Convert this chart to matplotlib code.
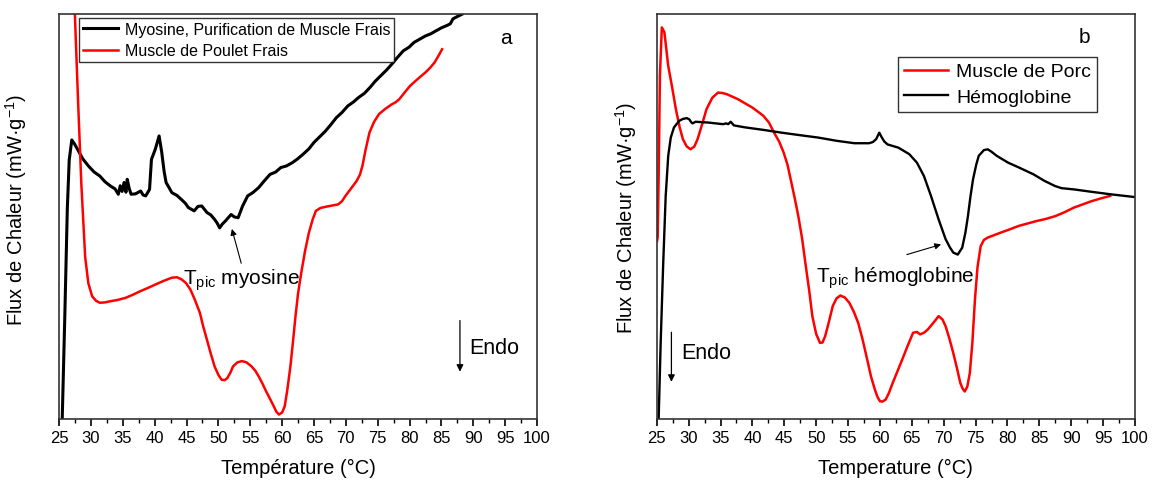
import numpy as np
import matplotlib.pyplot as plt
from matplotlib.ticker import MultipleLocator

plt.rcParams['font.family'] = ['Liberation Sans', 'DejaVu Sans']
plt.rcParams['mathtext.fontset'] = 'custom'
plt.rcParams['mathtext.rm'] = 'Liberation Sans'
plt.rcParams['mathtext.it'] = 'Liberation Sans'

# --- panel a : myosine (black) ---
myo_t = [25.5, 25.9, 26.3, 26.6, 27.0, 27.4, 27.9, 28.7, 29.6, 30.5, 31.4, 32.2, 33.1, 33.8, 34.3,
         34.6, 34.9, 35.2, 35.5, 35.7, 36.0, 36.3, 37.0, 37.8, 38.2, 38.6, 39.2, 39.5, 40.1, 40.7,
         41.1, 41.5, 41.8, 42.7, 43.5, 44.2, 44.8, 45.3, 46.2, 46.8, 47.4, 48.2, 48.8, 49.4, 49.8,
         50.2, 50.6, 51.1, 51.6, 52.0, 52.5, 53.1, 53.8, 54.6, 55.4, 56.3, 57.2, 58.1, 59.0, 59.8,
         60.7, 61.6, 62.4, 63.3, 64.2, 65.0, 65.9, 66.8, 67.6, 68.5, 69.4, 70.3, 71.2, 72.0, 72.9,
         73.8, 74.6, 75.5, 76.4, 77.2, 78.1, 79.0, 79.9, 80.7, 81.6, 82.5, 83.3, 84.2, 85.0, 85.9,
         86.4, 86.8, 87.5, 88.3, 89.0]
myo_y = [0.0, 25.0, 52.0, 64.0, 68.9, 68.0, 66.6, 64.3, 62.5, 61.0, 60.0, 58.6, 57.5, 56.8, 55.5,
         57.6, 56.2, 58.4, 56.0, 59.2, 57.0, 55.5, 55.6, 56.3, 55.3, 55.1, 56.7, 64.1, 66.6, 69.9,
         66.0, 61.0, 58.4, 55.9, 55.2, 54.2, 53.3, 52.2, 51.4, 52.5, 52.6, 51.0, 50.4, 49.3, 48.4,
         47.2, 48.1, 48.9, 49.8, 50.5, 49.9, 49.7, 52.6, 55.1, 55.9, 57.1, 58.8, 60.4, 61.0, 62.1,
         62.5, 63.3, 64.2, 65.4, 66.7, 68.3, 69.7, 71.1, 72.6, 74.4, 75.7, 77.3, 78.3, 79.4, 80.4,
         81.9, 83.4, 84.8, 86.2, 87.6, 89.3, 90.9, 91.8, 93.0, 93.8, 94.6, 95.1, 95.9, 96.6, 97.2,
         97.6, 98.8, 99.4, 100.0, 101.5]

# --- panel a : muscle de poulet (red) ---
poulet_t = [27.3, 27.6, 28.0, 28.5, 29.1, 29.6, 30.2, 30.8, 31.4, 32.2, 33.1, 34.2, 35.4, 36.6,
            37.8, 39.0, 40.1, 41.4, 42.7, 43.5, 44.2, 44.9, 45.6, 46.3, 47.1, 47.6, 48.2, 48.8,
            49.4, 50.0, 50.5, 51.0, 51.4, 51.9, 52.3, 53.0, 53.7, 54.4, 55.2, 55.8, 56.3, 56.9,
            57.5, 58.1, 58.7, 59.1, 59.5, 60.0, 60.4, 60.8, 61.3, 61.7, 62.1, 62.5, 63.0, 63.6,
            64.2, 64.8, 65.3, 66.0, 66.8, 67.8, 68.8, 69.4, 69.9, 70.8, 71.7, 72.2, 72.6, 73.1,
            73.7, 74.4, 75.2, 76.2, 77.2, 77.8, 78.4, 79.2, 80.1, 81.3, 82.5, 83.2, 83.9, 84.5, 85.1]
poulet_y = [108.0, 95.0, 78.0, 58.0, 40.0, 33.5, 30.3, 29.2, 28.7, 28.8, 29.1, 29.4, 29.9, 30.7,
            31.6, 32.4, 33.2, 34.1, 34.9, 35.0, 34.5, 33.6, 32.0, 29.5, 26.2, 23.0, 19.6, 16.2,
            13.0, 10.9, 9.7, 9.6, 10.1, 11.5, 13.0, 14.0, 14.3, 14.0, 13.0, 11.9, 10.6, 8.8,
            6.8, 5.0, 3.1, 1.8, 1.1, 1.6, 3.1, 7.0, 13.0, 19.0, 25.4, 31.0, 36.1, 41.5,
            46.0, 49.3, 51.4, 52.1, 52.4, 52.7, 53.0, 53.8, 55.0, 56.9, 58.8, 60.3, 62.5, 66.5,
            70.7, 73.3, 75.3, 76.6, 77.7, 78.2, 79.0, 80.6, 82.3, 84.0, 85.6, 86.7, 88.0, 89.6, 91.3]

# --- panel b : muscle de porc (red) ---
porc_t = [25.05, 25.15, 25.3, 25.5, 25.8, 26.2, 26.8, 27.4, 28.0, 28.6, 29.1, 29.7, 30.3, 30.9,
          31.4, 32.1, 32.8, 33.7, 34.6, 35.3, 36.0, 37.7, 40.0, 41.7, 42.6, 43.4, 44.2, 44.9,
          45.5, 46.0, 46.6, 47.2, 47.8, 48.3, 48.9, 49.4, 50.0, 50.6, 51.0, 51.4, 52.0, 52.6,
          53.2, 53.8, 54.5, 55.2, 55.9, 56.6, 57.3, 58.0, 58.6, 59.2, 59.6, 60.0, 60.4, 60.9,
          61.4, 62.0, 62.7, 63.5, 64.3, 65.2, 65.8, 66.3, 66.9, 67.5, 68.3, 69.2, 69.8, 70.3,
          70.9, 71.5, 72.1, 72.6, 73.0, 73.3, 73.7, 74.1, 74.5, 74.9, 75.3, 75.8, 76.3, 76.9,
          78.9, 80.3, 81.8, 83.2, 84.6, 86.0, 87.5, 89.0, 90.4, 91.8, 93.2, 94.7, 96.1]
porc_y = [44.0, 45.0, 60.0, 85.0, 96.7, 95.5, 87.2, 82.0, 76.5, 72.0, 69.1, 67.3, 66.6, 67.3,
          69.1, 72.7, 76.5, 79.3, 80.6, 80.5, 80.2, 79.0, 76.9, 74.9, 73.2, 70.7, 68.5, 65.8,
          62.8, 59.2, 54.8, 50.1, 44.5, 38.6, 31.8, 25.4, 21.0, 18.8, 18.9, 20.4, 24.0, 27.9,
          29.8, 30.5, 30.0, 28.7, 26.5, 23.7, 19.5, 14.7, 10.5, 7.3, 5.5, 4.4, 4.3, 4.8,
          6.4, 8.9, 11.6, 14.7, 17.9, 21.3, 21.5, 20.9, 21.3, 22.1, 23.6, 25.4, 24.6, 22.9,
          19.8, 16.3, 12.4, 8.9, 7.4, 6.8, 8.0, 11.4, 19.0, 29.5, 37.5, 42.7, 44.2, 44.8,
          46.0, 46.8, 47.7, 48.3, 48.9, 49.4, 50.1, 51.1, 52.2, 53.0, 53.8, 54.5, 55.1]

# --- panel b : hemoglobine (black) ---
hemo_t = [25.3, 25.6, 26.0, 26.4, 26.8, 27.2, 27.7, 28.5, 29.1, 29.7, 30.1, 30.4, 30.6, 31.1,
          33.1, 35.4, 35.9, 36.2, 36.6, 37.1, 38.9, 41.7, 44.6, 47.4, 50.3, 53.2, 56.0, 58.3,
          58.9, 59.4, 59.9, 60.3, 60.7, 61.2, 62.9, 64.6, 65.8, 66.9, 68.0, 69.2, 70.3, 71.0,
          71.5, 72.2, 72.9, 73.4, 73.8, 74.2, 74.6, 75.1, 75.5, 76.3, 76.9, 77.5, 78.3, 80.1,
          81.8, 84.1, 85.8, 87.5, 88.5, 90.4, 93.2, 96.1, 100.0]
hemo_y = [0.0, 18.0, 37.8, 55.0, 65.0, 69.5, 72.0, 73.6, 74.1, 74.3, 74.0, 73.3, 73.0, 73.4,
          73.2, 72.8, 73.0, 72.8, 73.4, 72.5, 72.0, 71.4, 70.7, 70.1, 69.5, 68.7, 68.1, 68.1,
          68.4, 69.1, 70.7, 69.5, 68.5, 67.8, 67.0, 65.4, 63.3, 60.0, 55.1, 49.3, 44.4, 42.3,
          41.1, 40.6, 42.3, 46.0, 50.1, 55.0, 59.2, 62.8, 65.0, 66.4, 66.6, 66.0, 65.0, 63.3,
          62.1, 60.4, 58.8, 57.5, 57.0, 56.7, 56.1, 55.5, 54.8]

fig = plt.figure(figsize=(11.53, 4.85), dpi=100)
ax1 = fig.add_axes([0.0512, 0.134, 0.4146, 0.835])
ax2 = fig.add_axes([0.5696, 0.134, 0.4148, 0.835])

ax1.plot(myo_t, myo_y, color='black', lw=2.2, label='Myosine, Purification de Muscle Frais')
ax1.plot(poulet_t, poulet_y, color='red', lw=1.8, label='Muscle de Poulet Frais')
ax2.plot(porc_t, porc_y, color='red', lw=1.8, label='Muscle de Porc')
ax2.plot(hemo_t, hemo_y, color='black', lw=1.7, label='Hémoglobine')

xlabels = ['Température (°C)', 'Temperature (°C)']
ylab_x = [-0.063, -0.038]
ylab_y = [0.52, 0.50]
for ax, xl, lx, ly in zip([ax1, ax2], xlabels, ylab_x, ylab_y):
    ax.set_xlim(25, 100)
    ax.set_ylim(0, 100)
    ax.xaxis.set_major_locator(MultipleLocator(5))
    ax.xaxis.set_minor_locator(MultipleLocator(2.5))
    ax.tick_params(axis='x', which='major', direction='out', length=5, width=1.2, labelsize=12, pad=3)
    ax.tick_params(axis='x', which='minor', direction='out', length=3, width=1.0)
    ax.set_yticks([])
    for s in ax.spines.values():
        s.set_linewidth(1.2)
        s.set_color('#333333')
    ax.set_xlabel(xl, fontsize=14.5, labelpad=9)
    ax.set_ylabel('Flux de Chaleur (mW·g$^{-1}$)', fontsize=14.5)
    ax.yaxis.set_label_coords(lx, ly)

leg1 = ax1.legend(loc='upper left', bbox_to_anchor=(0.042, 0.99), fontsize=11.5, frameon=True,
                  fancybox=False, handlelength=2.2, borderpad=0.25, labelspacing=0.4,
                  handletextpad=0.4, borderaxespad=0)
leg1.get_frame().set_edgecolor('black')
leg1.get_frame().set_linewidth(1.0)
leg2 = ax2.legend(loc='upper left', bbox_to_anchor=(0.504, 0.894), fontsize=14, frameon=True,
                  fancybox=False, handlelength=2.3, borderpad=0.3, labelspacing=0.4,
                  handletextpad=0.4, borderaxespad=0)
leg2.get_frame().set_edgecolor('black')
leg2.get_frame().set_linewidth(1.0)

# panel labels
ax1.text(95.1, 94.2, 'a', fontsize=15, ha='center', va='center')
ax2.text(92.0, 94.5, 'b', fontsize=15, ha='center', va='center')

# Endo arrows
ax1.annotate('', xy=(87.9, 11.0), xytext=(87.9, 25.0),
             arrowprops=dict(arrowstyle='-|>', color='black', lw=0.9, mutation_scale=10))
ax1.text(89.3, 17.6, 'Endo', fontsize=15.5, ha='left', va='center')
ax2.annotate('', xy=(27.3, 8.5), xytext=(27.3, 22.1),
             arrowprops=dict(arrowstyle='-|>', color='black', lw=0.9, mutation_scale=10))
ax2.text(28.9, 16.5, 'Endo', fontsize=15.5, ha='left', va='center')

# peak annotations
ax1.annotate('', xy=(52.0, 47.6), xytext=(53.7, 37.8),
             arrowprops=dict(arrowstyle='-|>', color='black', lw=0.8, mutation_scale=9))
ax1.text(44.5, 34.5, r'T$_{\mathrm{pic}}$ myosine', fontsize=15, ha='left', va='center')
ax2.annotate('', xy=(70.0, 43.3), xytext=(63.8, 40.4),
             arrowprops=dict(arrowstyle='-|>', color='black', lw=0.8, mutation_scale=9))
ax2.text(50.0, 35.0, r'T$_{\mathrm{pic}}$ hémoglobine', fontsize=15, ha='left', va='center')

fig.savefig('out.png', dpi=100)
